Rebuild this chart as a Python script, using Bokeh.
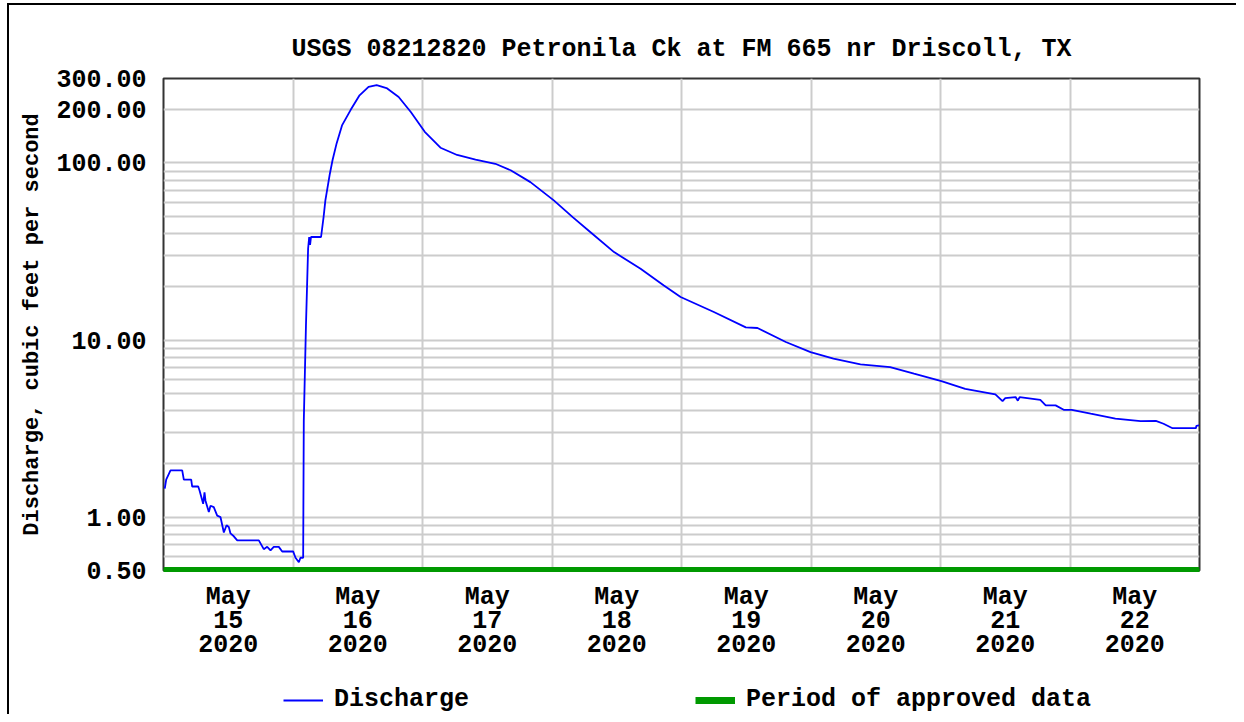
import pandas as pd
from bokeh.plotting import figure
from bokeh.layouts import column
from bokeh.models import FixedTicker, PrintfTickFormatter, Legend, LegendItem, Range1d
from bokeh.embed import file_html
from bokeh.resources import INLINE

# ---------------- data ----------------
times = [
    "2020-05-15 00:14", "2020-05-15 00:30", "2020-05-15 01:18", "2020-05-15 03:28", "2020-05-15 03:46",
    "2020-05-15 05:08", "2020-05-15 05:19", "2020-05-15 06:26", "2020-05-15 06:40", "2020-05-15 07:21",
    "2020-05-15 07:36", "2020-05-15 07:47", "2020-05-15 08:24", "2020-05-15 08:43", "2020-05-15 09:19",
    "2020-05-15 09:57", "2020-05-15 10:34", "2020-05-15 11:11", "2020-05-15 11:41", "2020-05-15 12:06",
    "2020-05-15 12:25", "2020-05-15 13:02", "2020-05-15 13:40", "2020-05-15 17:40", "2020-05-15 18:35",
    "2020-05-15 19:13", "2020-05-15 19:50", "2020-05-15 20:26", "2020-05-15 21:22", "2020-05-15 22:00",
    "2020-05-16 00:02", "2020-05-16 00:28", "2020-05-16 01:05", "2020-05-16 01:23", "2020-05-16 01:53",
    "2020-05-16 02:00", "2020-05-16 02:24", "2020-05-16 02:48", "2020-05-16 03:00", "2020-05-16 03:10",
    "2020-05-16 03:20", "2020-05-16 05:12", "2020-05-16 05:40", "2020-05-16 06:00", "2020-05-16 06:50",
    "2020-05-16 07:20", "2020-05-16 08:05", "2020-05-16 09:05", "2020-05-16 10:40", "2020-05-16 12:20",
    "2020-05-16 14:00", "2020-05-16 15:30", "2020-05-16 17:20", "2020-05-16 19:35", "2020-05-16 21:50",
    "2020-05-17 00:25", "2020-05-17 03:20", "2020-05-17 06:25", "2020-05-17 09:50", "2020-05-17 13:30",
    "2020-05-17 16:20", "2020-05-17 20:00", "2020-05-18 00:20", "2020-05-18 03:50", "2020-05-18 07:05",
    "2020-05-18 11:30", "2020-05-18 16:25", "2020-05-18 20:40", "2020-05-18 23:50", "2020-05-19 06:00",
    "2020-05-19 11:55", "2020-05-19 14:05", "2020-05-19 19:20", "2020-05-19 23:55", "2020-05-20 04:10",
    "2020-05-20 09:10", "2020-05-20 14:40", "2020-05-20 19:05", "2020-05-21 00:10", "2020-05-21 04:35",
    "2020-05-21 10:10", "2020-05-21 11:30", "2020-05-21 12:00", "2020-05-21 13:55", "2020-05-21 14:20",
    "2020-05-21 14:40", "2020-05-21 18:30", "2020-05-21 19:30", "2020-05-21 21:20", "2020-05-21 22:50",
    "2020-05-22 00:20", "2020-05-22 03:50", "2020-05-22 08:25", "2020-05-22 13:05", "2020-05-22 15:55",
    "2020-05-22 17:20", "2020-05-22 19:00", "2020-05-22 23:20", "2020-05-22 23:25", "2020-05-22 23:55",
]
discharge = [
    1.45, 1.63, 1.84, 1.84, 1.63,
    1.63, 1.49, 1.49, 1.42, 1.19,
    1.38, 1.24, 1.07, 1.16, 1.14,
    1.02, 1.00, 0.82, 0.90, 0.88,
    0.81, 0.78, 0.74, 0.74, 0.66,
    0.68, 0.65, 0.68, 0.68, 0.64,
    0.64, 0.59, 0.557, 0.59, 0.59,
    3.5, 12.0, 32.9, 38.2, 34.5,
    38.2, 38.2, 49.5, 61.5, 87.0,
    104.0, 129.0, 163.0, 199.0, 241.0,
    269.0, 275.0, 265.0, 236.0, 194.0,
    150.0, 122.0, 111.0, 104.5, 99.0,
    91.0, 78.0, 61.5, 49.5, 40.8,
    31.4, 25.3, 20.4, 17.5, 14.4,
    11.8, 11.7, 9.75, 8.56, 7.85,
    7.29, 7.04, 6.46, 5.87, 5.31,
    4.94, 4.52, 4.70, 4.77, 4.55,
    4.77, 4.60, 4.28, 4.28, 4.04,
    4.04, 3.84, 3.60, 3.49, 3.50,
    3.37, 3.18, 3.18, 3.28, 3.30,
]

label_days = ["2020-05-15", "2020-05-16", "2020-05-17", "2020-05-18",
              "2020-05-19", "2020-05-20", "2020-05-21", "2020-05-22"]
day_labels = ["May\n15\n2020", "May\n16\n2020", "May\n17\n2020", "May\n18\n2020",
              "May\n19\n2020", "May\n20\n2020", "May\n21\n2020", "May\n22\n2020"]

y_major = [0.5, 1, 10, 100, 200, 300]
y_minor = [0.6, 0.7, 0.8, 0.9, 2, 3, 4, 5, 6, 7, 8, 9,
           20, 30, 40, 50, 60, 70, 80, 90]

period_start = "2020-05-15 00:00"
period_end = "2020-05-23 00:00"
y_min, y_max = 0.5, 300

title_text = "USGS 08212820 Petronila Ck at FM 665 nr Driscoll, TX"
y_label = "Discharge, cubic feet per second"
legend_labels = ["Discharge", "Period of approved data"]

# ---------------- styling ----------------
FONT = "Liberation Mono"
FS = "25px"
BLUE = "#0000ff"
GREEN = "#009900"
GRID = "#cccccc"

W = 1236
H_MAIN = 670
H_LEG = 44


def ms(ts):
    return pd.Timestamp(ts).value // 10**6


x0, x1 = ms(period_start), ms(period_end)
noon_ticks = [ms(d) + 12 * 3600 * 1000 for d in label_days]
midnight_ticks = [ms(d) for d in label_days] + [x1]

p = figure(width=W, height=H_MAIN, x_axis_type="datetime", y_axis_type="log",
           x_range=Range1d(x0, x1), y_range=Range1d(y_min, y_max),
           output_backend="svg", toolbar_location=None,
           min_border_left=163, min_border_right=W - 163 - 1036,
           min_border_top=78, min_border_bottom=H_MAIN - 570)

p.title.text = title_text
p.title.align = "center"
p.title.text_font = FONT
p.title.text_font_size = FS
p.title.text_font_style = "bold"
p.title.text_color = "black"
p.title.standoff = 30

p.outline_line_color = "#333333"
p.outline_line_width = 2
p.outline_line_alpha = 1.0
p.background_fill_color = "white"
p.border_fill_color = None

# grids
p.xgrid.ticker = FixedTicker(ticks=midnight_ticks)
p.xgrid.grid_line_color = GRID
p.xgrid.grid_line_width = 2
yt = FixedTicker(ticks=y_major, minor_ticks=y_minor)
p.yaxis.ticker = yt
p.ygrid.ticker = yt
p.ygrid.grid_line_color = GRID
p.ygrid.grid_line_width = 2
p.ygrid.minor_grid_line_color = GRID
p.ygrid.minor_grid_line_width = 2

# y axis
p.yaxis.formatter = PrintfTickFormatter(format="%.2f")
p.yaxis.major_tick_line_color = None
p.yaxis.minor_tick_line_color = None
p.yaxis.axis_line_color = None
p.yaxis.major_label_standoff = 11
p.yaxis.major_label_text_font = FONT
p.yaxis.major_label_text_font_size = FS
p.yaxis.major_label_text_font_style = "bold"
p.yaxis.major_label_text_color = "black"
p.yaxis.axis_label = y_label
p.yaxis.axis_label_text_font = FONT
p.yaxis.axis_label_text_font_size = "22px"
p.yaxis.axis_label_text_font_style = "bold"
p.yaxis.axis_label_text_color = "black"
p.yaxis.axis_label_standoff = 8

# x axis
p.xaxis.ticker = FixedTicker(ticks=noon_ticks)
p.xaxis.major_label_overrides = {t: lab for t, lab in zip(noon_ticks, day_labels)}
p.xaxis.major_tick_line_color = None
p.xaxis.minor_tick_line_color = None
p.xaxis.axis_line_color = GREEN
p.xaxis.axis_line_width = 3
p.xaxis.major_label_standoff = 6
p.xaxis.major_label_text_font = FONT
p.xaxis.major_label_text_font_size = FS
p.xaxis.major_label_text_font_style = "bold"
p.xaxis.major_label_text_color = "black"
p.xaxis.major_label_text_line_height = 0.84

# data
t = pd.to_datetime(times)
p.line(t, discharge, line_color=BLUE, line_width=1.8)
p.line(pd.to_datetime([period_start, period_end]), [y_min, y_min],
       line_color=GREEN, line_width=7)

# legend strip (separate figure so the legend is not clipped by the main frame;
# its frame is aligned with the main frame, so offsets are from x = 163)
lf = figure(width=W, height=H_LEG, x_range=Range1d(0, 1), y_range=Range1d(0, 1),
            output_backend="svg", toolbar_location=None,
            min_border_left=0, min_border_right=0,
            min_border_top=0, min_border_bottom=0)
lf.axis.visible = False
lf.grid.visible = False
lf.outline_line_color = None
lf.background_fill_color = None
lf.border_fill_color = None
# swatch renderers: their points lie outside the strip's range, only the legend shows them
lr1 = lf.line([-2, -1], [-2, -2], line_color=BLUE, line_width=1.8)
lr2 = lf.line([-2, -1], [-2, -2], line_color=GREEN, line_width=7)

common = dict(padding=0, margin=0, border_line_color=None, background_fill_alpha=0,
              label_text_font=FONT, label_text_font_size=FS, label_text_font_style="bold",
              label_text_color="black", glyph_width=40, glyph_height=20, label_height=20,
              label_standoff=11, spacing=0)
leg1 = Legend(items=[LegendItem(label=legend_labels[0], renderers=[lr1])],
              location=(120, 0), **common)
leg2 = Legend(items=[LegendItem(label=legend_labels[1], renderers=[lr2])],
              location=(532, 0), **common)
lf.add_layout(leg1, "center")
lf.add_layout(leg2, "center")

layout = column(p, lf, spacing=0)
layout.styles = {
    "background": "linear-gradient(#000, #000) 7px 3px / 2px 100% no-repeat, "
                  "linear-gradient(#000, #000) 7px 3px / 100% 2px no-repeat, #ffffff",
}

open("out.html", "w").write(file_html(layout, INLINE))
